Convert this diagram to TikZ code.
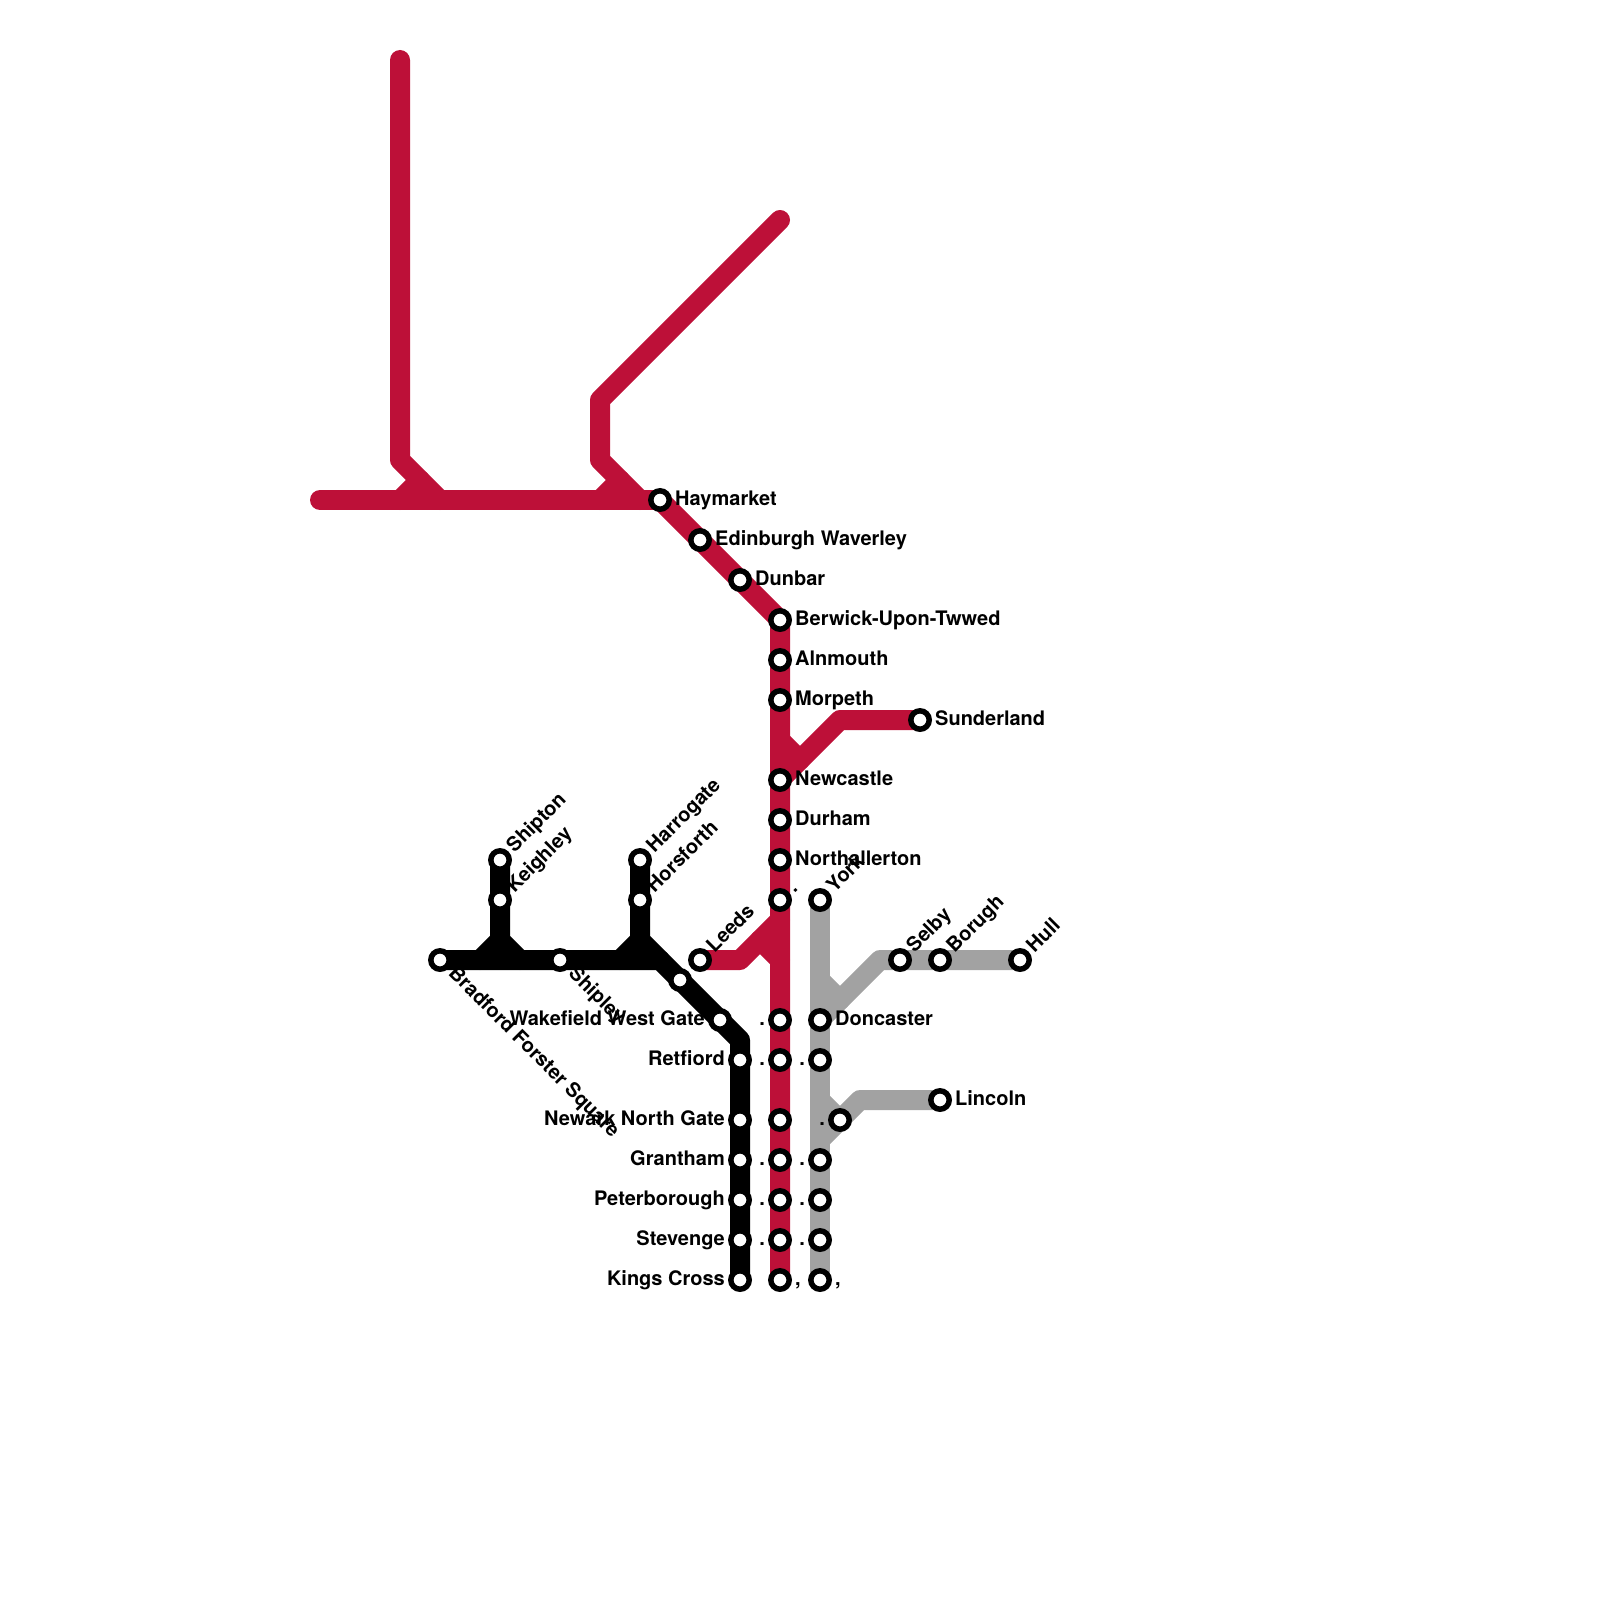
\documentclass[tikz,border=0pt]{standalone}
\usepackage{fontspec}
\setmainfont{TeX Gyre Heros}
\usepackage{xcolor}
\usepackage{tikz}
\usetikzlibrary{backgrounds}
\definecolor{crimson}{HTML}{BD1038}
\definecolor{silver}{HTML}{A2A2A2}

\begin{document}
\begin{tikzpicture}[
    x=1pt,
    y=-1pt,
    station/.style={
        circle,
        draw=black,
        line width=5.5pt,
        fill=white,
        inner sep=0pt,
        minimum size=18.4pt
    },
    rlabel/.style={
        font=\fontsize{20}{22}\selectfont\bfseries,
        inner sep=0pt,
        text height=14pt,
        text depth=4pt,
        anchor=west
    },
    llabel/.style={rlabel, anchor=east},
    nelabel/.style={rlabel, rotate=45},
    selabel/.style={rlabel, rotate=-45},
    route/.style={draw, line width=20pt, line cap=round, line join=round}
]
\useasboundingbox (0,0) rectangle (1600,1600);

% Red stations
\node[station] (hay) at (660,500) {};
\node[station] (edin) at (700,540) {};
\node[station] (dunbar) at (740,580) {};
\node[station] (berwick) at (780,620) {};
\node[station] (alnmouth) at (780,660) {};
\node[station] (morpeth) at (780,700) {};
\node[station] (sunderland) at (920,720) {};
\node[station] (newcastle) at (780,780) {};
\node[station] (durham) at (780,820) {};
\node[station] (northall) at (780,860) {};
\node[station] (redyork) at (780,900) {};
\node[station] (leeds) at (700,960) {};
\node[station] (reddon) at (780,1020) {};
\node[station] (redret) at (780,1060) {};
\node[station] (rednewark) at (780,1120) {};
\node[station] (redgran) at (780,1160) {};
\node[station] (redpeter) at (780,1200) {};
\node[station] (redstev) at (780,1240) {};
\node[station] (redkings) at (780,1280) {};

% Grey stations
\node[station] (york) at (820,900) {};
\node[station] (selby) at (900,960) {};
\node[station] (borugh) at (940,960) {};
\node[station] (hull) at (1020,960) {};
\node[station] (doncaster) at (820,1020) {};
\node[station] (greyret) at (820,1060) {};
\node[station] (lincoln) at (940,1100) {};
\node[station] (greynewark) at (840,1120) {};
\node[station] (greygran) at (820,1160) {};
\node[station] (greypeter) at (820,1200) {};
\node[station] (greystev) at (820,1240) {};
\node[station] (greykings) at (820,1280) {};

% Black stations
\node[station] (shipton) at (500,860) {};
\node[station] (keighley) at (500,900) {};
\node[station] (harrogate) at (640,860) {};
\node[station] (horsforth) at (640,900) {};
\node[station] (bradford) at (440,960) {};
\node[station] (shipley) at (560,960) {};
\node[station] (unnamed) at (680,980) {};
\node[station] (wakefield) at (720,1020) {};
\node[station] (retford) at (740,1060) {};
\node[station] (newark) at (740,1120) {};
\node[station] (grantham) at (740,1160) {};
\node[station] (peter) at (740,1200) {};
\node[station] (stevenage) at (740,1240) {};
\node[station] (kings) at (740,1280) {};

% Bends and free ends
\coordinate (redtop) at (400,60);
\coordinate (redbendA) at (400,460);
\coordinate (redjoinA) at (420,480);
\coordinate (redfootA) at (400,500);
\coordinate (redendA) at (440,500);
\coordinate (redwest) at (320,500);
\coordinate (rednorth) at (780,220);
\coordinate (redbendB) at (600,400);
\coordinate (redbendC) at (600,460);
\coordinate (redendB) at (640,500);
\coordinate (redjoinB) at (620,480);
\coordinate (redfootB) at (600,500);
\coordinate (redstub) at (780,740);
\coordinate (redstubend) at (800,760);
\coordinate (redbendD) at (840,720);
\coordinate (redbendE) at (740,960);
\coordinate (redmeet) at (780,920);
\coordinate (redstubF) at (760,940);
\coordinate (redstubG) at (780,960);
\coordinate (greystub) at (820,980);
\coordinate (greystubend) at (840,1000);
\coordinate (greybendA) at (880,960);
\coordinate (greystubB) at (820,1100);
\coordinate (greybendB) at (860,1100);
\coordinate (greymeet) at (820,1140);
\coordinate (blackjoinA) at (500,940);
\coordinate (blackendA) at (520,960);
\coordinate (blackfootA) at (480,960);
\coordinate (blackjoinB) at (640,940);
\coordinate (blackendB) at (660,960);
\coordinate (blackfootB) at (620,960);
\coordinate (blackbend) at (740,1040);

% Routes go under the stations
\begin{scope}[on background layer]
\draw[route, silver] (york.center) -- (greykings.center);
\draw[route, silver] (greystub) -- (greystubend);
\draw[route, silver] (hull.center) -- (greybendA) -- (doncaster.center);
\draw[route, silver] (greystubB) -- (greynewark.center);
\draw[route, silver] (lincoln.center) -- (greybendB) -- (greymeet);

\draw[route, crimson] (redtop) -- (redbendA) -- (redendA);
\draw[route, crimson] (redjoinA) -- (redfootA);
\draw[route, crimson] (redwest) -- (hay.center);
\draw[route, crimson] (rednorth) -- (redbendB) -- (redbendC) -- (redendB);
\draw[route, crimson] (hay.center) -- (berwick.center) -- (redkings.center);
\draw[route, crimson] (redjoinB) -- (redfootB);
\draw[route, crimson] (redstub) -- (redstubend);
\draw[route, crimson] (sunderland.center) -- (redbendD) -- (newcastle.center);
\draw[route, crimson] (leeds.center) -- (redbendE) -- (redmeet);
\draw[route, crimson] (redstubF) -- (redstubG);

\draw[route, black] (bradford.center) -- (blackendB) -- (blackbend) -- (kings.center);
\draw[route, black] (shipton.center) -- (blackjoinA) -- (blackendA);
\draw[route, black] (blackjoinA) -- (blackfootA);
\draw[route, black] (harrogate.center) -- (blackjoinB) -- (blackendB);
\draw[route, black] (blackjoinB) -- (blackfootB);
\end{scope}

% Labels to the right
\node[rlabel] (lhay) at (675,500) {Haymarket};
\node[rlabel] (ledin) at (715,540) {Edinburgh Waverley};
\node[rlabel] (ldunbar) at (755,580) {Dunbar};
\node[rlabel] (lberwick) at (795,620) {Berwick-Upon-Twwed};
\node[rlabel] (lalnmouth) at (795,660) {Alnmouth};
\node[rlabel] (lmorpeth) at (795,700) {Morpeth};
\node[rlabel] (lsunderland) at (935,720) {Sunderland};
\node[rlabel] (lnewcastle) at (795,780) {Newcastle};
\node[rlabel] (ldurham) at (795,820) {Durham};
\node[rlabel] (lnorthall) at (795,860) {Northallerton};
\node[rlabel] (ldoncaster) at (835,1020) {Doncaster};
\node[rlabel] (llincoln) at (955,1100) {Lincoln};
\node[rlabel] (lredkings) at (795,1280) {,};
\node[rlabel] (lgreykings) at (835,1280) {,};

% Labels to the left
\node[llabel] (lwakefield) at (705,1020) {Wakefield West Gate};
\node[llabel] (lretford) at (725,1060) {Retfiord};
\node[llabel] (lnewark) at (725,1120) {Newark North Gate};
\node[llabel] (lgrantham) at (725,1160) {Grantham};
\node[llabel] (lpeter) at (725,1200) {Peterborough};
\node[llabel] (lstevenage) at (725,1240) {Stevenge};
\node[llabel] (lkings) at (725,1280) {Kings Cross};
\node[llabel] (lreddon) at (765,1020) {.};
\node[llabel] (lredret) at (765,1060) {.};
\node[llabel] (lredgran) at (765,1160) {.};
\node[llabel] (lredpeter) at (765,1200) {.};
\node[llabel] (lredstev) at (765,1240) {.};
\node[llabel] (lgreyret) at (805,1060) {.};
\node[llabel] (lgreynewark) at (825,1120) {.};
\node[llabel] (lgreygran) at (805,1160) {.};
\node[llabel] (lgreypeter) at (805,1200) {.};
\node[llabel] (lgreystev) at (805,1240) {.};

% Slanted labels
\node[nelabel] (lshipton) at (511,850) {Shipton};
\node[nelabel] (lkeighley) at (511,890) {Keighley};
\node[nelabel] (lharrogate) at (651,850) {Harrogate};
\node[nelabel] (lhorsforth) at (651,890) {Horsforth};
\node[nelabel] (lleeds) at (711,950) {Leeds};
\node[nelabel] (lredyork) at (791,890) {.};
\node[nelabel] (lyork) at (831,890) {York};
\node[nelabel] (lselby) at (911,950) {Selby};
\node[nelabel] (lborugh) at (951,950) {Borugh};
\node[nelabel] (lhull) at (1031,950) {Hull};
\node[selabel] (lbradford) at (451,971) {Bradford Forster Square};
\node[selabel] (lshipley) at (571,971) {Shipley};

\end{tikzpicture}
\end{document}
